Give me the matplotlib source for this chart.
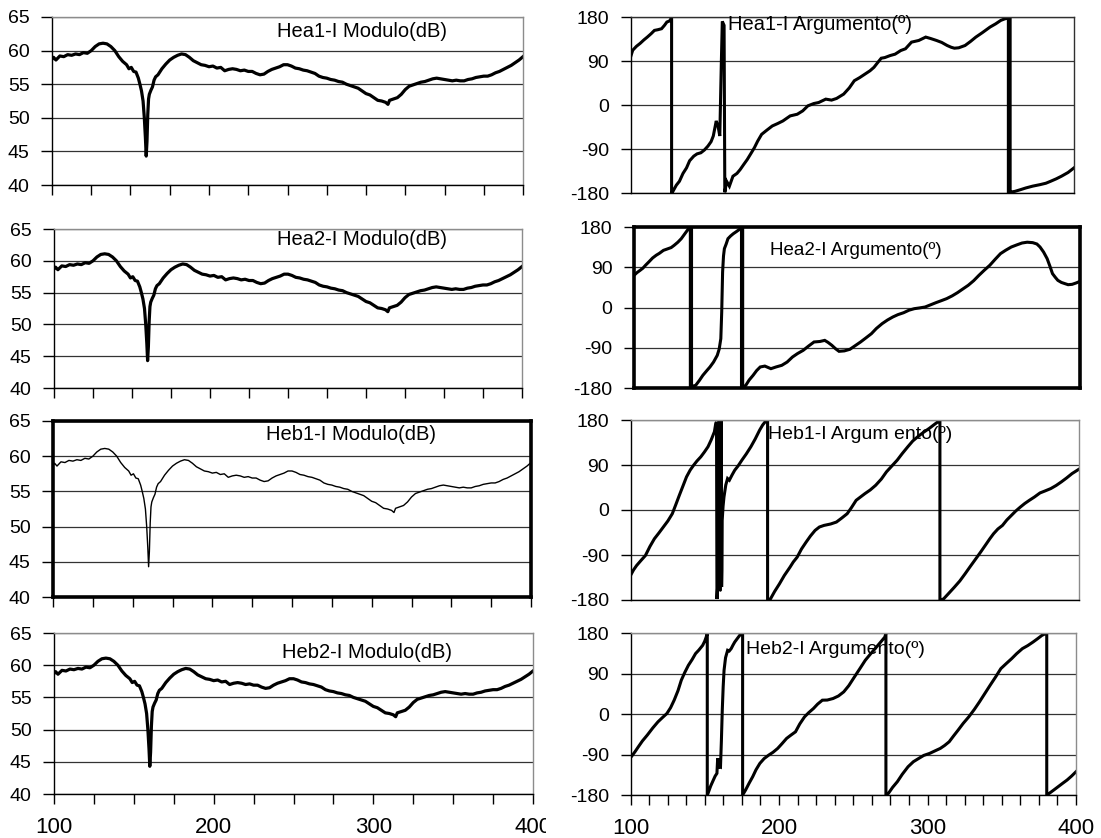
import matplotlib
matplotlib.use('Agg')
import matplotlib.pyplot as plt
from matplotlib.transforms import Bbox, TransformedBbox

plt.rcParams['font.family'] = ['Liberation Sans', 'DejaVu Sans']

# ---------------- data ----------------
freq_mod = [100, 101, 102.5, 105, 107.5, 110, 112.5, 115, 117.5, 120, 122.5, 125, 127.5, 130, 132.5,
            135, 137.5, 140, 142.5, 145, 147.5, 149, 150.5, 152, 153.5, 155, 156, 157, 158, 158.8,
            159.5, 160, 160.5, 161, 161.5, 162, 163, 164, 165, 166, 167.5, 170, 172.5, 175, 177.5,
            180, 182.5, 185, 187.5, 190, 192.5, 195, 197.5, 200, 202.5, 205, 207.5, 210, 212.5, 215,
            217.5, 220, 222.5, 225, 227.5, 230, 232.5, 235, 237.5, 240, 242.5, 245, 247.5, 250, 252.5,
            255, 257.5, 260, 262.5, 265, 267.5, 270, 272.5, 275, 277.5, 280, 282.5, 285, 287.5, 290,
            292.5, 295, 297.5, 300, 302.5, 305, 307.5, 310, 312.5, 314, 315, 317.5, 320, 322.5, 325,
            327.5, 330, 332.5, 335, 337.5, 340, 342.5, 345, 347.5, 350, 352.5, 355, 357.5, 360, 362.5,
            365, 367.5, 370, 372.5, 375, 377.5, 380, 382.5, 385, 387.5, 390, 392.5, 395, 397.5, 400]
modulo_db = [58.7, 59.0, 58.6, 59.2, 59.1, 59.4, 59.3, 59.5, 59.4, 59.7, 59.6, 60.0, 60.6, 61.0, 61.1,
             61.0, 60.6, 60.0, 59.1, 58.4, 57.9, 57.3, 57.5, 56.9, 56.8, 55.9, 55.0, 54.0, 52.5, 50.0,
             47.0, 44.3, 46.5, 50.5, 52.8, 53.5, 54.1, 54.6, 55.6, 56.1, 56.4, 57.3, 58.0, 58.6, 59.0,
             59.3, 59.5, 59.4, 59.0, 58.5, 58.2, 57.9, 57.8, 57.6, 57.7, 57.4, 57.5, 57.0, 57.2, 57.3,
             57.2, 57.0, 57.1, 56.9, 56.9, 56.6, 56.4, 56.5, 56.9, 57.2, 57.4, 57.6, 57.9, 57.9, 57.7,
             57.4, 57.3, 57.1, 57.0, 56.8, 56.6, 56.2, 56.0, 55.9, 55.7, 55.6, 55.4, 55.3, 55.0, 54.8,
             54.6, 54.4, 54.0, 53.6, 53.4, 53.0, 52.6, 52.5, 52.3, 52.0, 52.6, 52.8, 53.0, 53.5, 54.2,
             54.7, 54.9, 55.1, 55.3, 55.4, 55.6, 55.8, 55.9, 55.8, 55.7, 55.6, 55.5, 55.6, 55.5, 55.5,
             55.7, 55.8, 56.0, 56.1, 56.2, 56.2, 56.4, 56.7, 56.9, 57.2, 57.5, 57.8, 58.2, 58.6, 59.1]

hea1_phase = [(100, 97.7), (101.5, 112), (104, 120), (106.5, 126), (109, 133), (111.4, 139), (114, 146),
              (116.2, 152.6), (118.5, 154), (121, 156), (123, 163), (124.6, 169.7), (126.5, 172),
              (127.8, 179), (127.8, -180), (128.7, -176.6), (131, -164), (133.1, -156), (135.5, -140),
              (137.9, -128.6), (140, -114), (142.8, -104.6), (145, -100), (147.6, -97.7), (150, -92),
              (152.4, -84), (154.5, -75), (156, -63.4), (157.2, -45), (158, -32.6), (158.6, -38),
              (159.2, -42.9), (160.4, -63.4), (161.4, 80.6), (162.1, 171), (163.3, 162.9),
              (163.8, -178.6), (165, -156), (166.9, -166), (169.3, -145.7), (172, -140), (174.2, -132),
              (176.5, -122), (179, -111.4), (181.5, -99), (183.8, -87.4), (186, -74), (188.7, -60),
              (192, -52), (195.9, -42.9), (199.5, -38), (203.1, -32.6), (208, -22.3), (212.8, -18.9),
              (216.5, -12), (220, -1.7), (224, 3), (227.3, 5.1), (232.1, 12), (236, 10), (239.4, 13.4),
              (244.2, 22.3), (248, 35), (251.4, 49.7), (255, 56), (258.7, 63.4), (262, 70), (264.7, 77.1),
              (267, 86), (269.6, 95.7), (272, 97), (275.6, 101.1), (279, 104), (282.8, 111.4),
              (286, 115), (290.1, 128.6), (295, 132), (299.7, 138.9), (303, 136), (307, 132),
              (310.5, 128), (314.2, 121.7), (317, 118), (319.1, 116.2), (322, 117), (326.3, 121.7),
              (330, 130), (333.6, 138.9), (338, 148), (343.2, 159.4), (347, 166), (350.5, 173.1),
              (353, 176), (355.3, 178), (355.6, 180), (355.6, -180), (356.2, -180), (356.2, 180),
              (356.8, 180), (356.8, -180), (357.5, -178), (360.1, -176.6), (364, -173), (367.4, -169.7),
              (372, -166), (377, -162.9), (381, -160), (384.2, -156), (388, -151), (391.5, -145.7),
              (396, -138), (400, -128.6)]

hea2_phase = [(100, 71.9), (102, 78), (104.1, 83.1), (106, 88), (107.7, 94.3), (110, 102), (112.5, 110.7),
              (115, 117), (117, 121), (119.8, 127.8), (122.5, 131), (125, 134), (127, 139), (129.5, 146),
              (131.8, 153.9), (134, 164), (136.7, 176.3), (137.9, 180), (137.9, -180), (138.3, -180),
              (138.3, 180), (138.7, 180), (138.7, -180), (139.5, -176), (141.5, -174), (144, -163),
              (146.3, -151.7), (149, -141), (151.1, -133), (153.5, -122), (156, -107), (157.3, -93),
              (158.4, -69.7), (159, -10), (159.6, 79.4), (160.2, 115), (160.8, 131.6), (162, 142),
              (163.2, 153.9), (165, 160), (166.8, 165), (169, 170), (171.6, 176.3), (172.3, 180),
              (172.3, -180), (172.7, -180), (172.7, 180), (173.1, 180), (173.1, -180), (175.2, -174),
              (177.5, -162), (180.1, -151.7), (182.5, -141), (184.9, -133), (188, -131), (192.1, -136.8),
              (195.5, -133), (199.4, -129.3), (203, -122), (206.6, -110.7), (210, -103), (213.8, -95.8),
              (217.5, -86), (221.1, -77.1), (225, -76), (228.3, -73.5), (230.5, -78), (233.1, -84.6),
              (235.5, -92), (237.9, -98), (241.5, -97), (245.2, -93.5), (248.5, -86), (252.4, -77.1),
              (256, -68), (259.7, -58.5), (263, -47), (266.9, -36.1), (270.5, -28), (274.1, -21.2),
              (277.5, -16), (281.4, -11.6), (285, -6), (288.6, -2.6), (292, -1), (295.8, 1.1),
              (299.5, 6), (303.1, 10.8), (306.5, 15), (310.3, 19.8), (314, 26), (317.6, 33.2),
              (321, 41), (324.8, 49.6), (328.5, 60), (332, 71.9), (335.5, 83), (339.3, 94.3),
              (343, 108), (346.5, 120.4), (350, 128), (353.8, 135.3), (357.5, 140), (361, 144.2),
              (364.5, 146), (368.2, 145), (371, 142), (373.1, 135.3), (375.5, 124), (377.9, 109.2),
              (379.8, 92), (381.5, 75.7), (383.5, 67), (385.1, 60.7), (387.5, 56), (389.9, 53.3),
              (392, 51), (394.7, 51.8), (397.5, 55), (400, 58.5)]

heb1_phase = [(100, -131), (102, -120), (104.1, -111), (107, -101), (110, -91), (113, -73), (116, -57.5),
              (119, -46), (122, -34), (125, -22), (128, -7.4), (130.5, 12), (132.7, 29.4), (135, 47),
              (137.5, 66.2), (140, 80), (142.3, 89.7), (144.5, 98), (147.1, 106.4), (149.5, 116),
              (151.9, 126.5), (154, 140), (156.2, 156.6), (157.1, 173.3), (157.6, 176), (157.9, -178),
              (158.4, -150), (158.9, 175), (159.3, 176), (159.7, -162), (160.1, -160), (160.5, 178),
              (160.8, 176), (161.0, -154), (161.2, -120), (161.4, -20.7), (162, 8), (162.6, 26.1),
              (163.8, 50), (165, 62.9), (166.2, 59.6), (168, 70), (169.8, 79.6), (172, 88),
              (174.6, 99.7), (177.5, 112), (180.6, 126.5), (183.5, 142), (186.5, 159.9), (188.5, 170),
              (190.8, 178.7), (191.8, 180), (191.8, -180), (193.7, -178), (196.5, -163), (199.7, -147.9),
              (203, -131), (206.8, -114.4), (209, -104), (211.6, -94.3), (214.5, -78), (217.6, -64.2),
              (220.5, -52), (223.6, -40.8), (226.5, -34), (229.6, -30.8), (234, -28), (237.9, -24.1),
              (241.5, -16), (245.1, -7.4), (248, 5), (251.1, 19.4), (254, 26), (257, 32.8),
              (260.5, 40), (264.2, 49.5), (268, 62), (271.4, 76.3), (275, 88), (278.6, 99.7),
              (282, 113), (285.7, 126.5), (289, 138), (292.9, 147.9), (296.5, 156), (300.1, 163.3),
              (303, 170), (306, 176.7), (307.2, 180), (307.2, -180), (309.6, -178), (313, -167),
              (316.8, -154.6), (320.5, -142), (324, -127.8), (327.5, -113), (331.2, -97.7),
              (334.5, -84), (338.3, -67.6), (340.5, -58), (343.1, -47.5), (346, -38), (349.1, -30.8),
              (352, -20), (355.1, -10.7), (358, -2), (361.1, 6), (364, 13), (367.1, 19.4),
              (370.5, 26), (374.2, 34.1), (377.5, 38), (381.4, 42.8), (385, 49), (388.5, 56.2),
              (392, 64), (395.7, 72.9), (400, 81)]

heb2_phase = [(100, -97), (100.5, -95), (103, -84), (105.3, -72.8), (108, -60), (111.3, -46.9),
              (115, -31), (118.5, -17.4), (121.5, -8), (124.5, 1.1), (127, 14), (129.4, 30.7),
              (132, 52), (134.2, 75), (136.5, 92), (139, 108.3), (141.5, 121), (143.8, 134.2),
              (146, 142), (148.6, 152.6), (150, 162), (151, 171.1), (151.7, 180), (151.7, -180),
              (152.2, -176.3), (154, -160), (155.8, -146.7), (157, -138), (158.2, -131.9),
              (158.7, -98.7), (159.4, -120.8), (160, -116), (160.6, -117.2), (161.2, -60),
              (161.8, 8.5), (162.4, 60), (163, 97.2), (164, 125), (165.4, 141.6), (166.5, 140),
              (167.8, 145.3), (169, 153), (170.2, 160), (172, 168), (173.9, 176.3), (175.5, 180),
              (175.5, -180), (177.5, -168.9), (180, -153), (182.3, -139.3), (184.5, -124),
              (187.1, -109.8), (190, -99), (193.1, -91.3), (196, -85), (199.1, -76.5), (202, -66),
              (205.1, -54.3), (208, -47), (211.1, -39.6), (214, -22), (217.2, -6.3), (220, 3),
              (223.2, 12.2), (226, 22), (229.2, 30.7), (232.5, 31), (236.4, 34.4), (240, 40),
              (243.6, 49.2), (247, 63), (250.8, 82.4), (254.5, 101), (258.1, 119.4), (261.5, 133),
              (265.3, 147.5), (268.5, 160), (271.3, 171.1), (272, 180), (272, -180), (273.7, -176.3),
              (276.5, -163), (279.7, -150.4), (283, -134), (286.9, -117.2), (290.5, -106),
              (294.1, -98.7), (297.5, -92), (301.4, -87.6), (305, -82), (308.6, -76.5), (311.5, -70),
              (314.6, -61.7), (317.5, -49), (320.6, -35.9), (324, -21), (327.8, -6.3), (331.5, 10),
              (335, 27), (338.5, 45), (342.2, 64), (346, 83), (349.4, 100.9), (353, 112),
              (356.7, 123.1), (360, 134), (363.9, 145.3), (367.5, 152), (371.1, 160), (374, 167),
              (377.1, 174.8), (380.3, 180), (380.3, -180), (382, -176.3), (385, -169), (388, -161.5),
              (391, -154), (394, -146.7), (397, -138), (400, -128.3)]

mod_titles = ['Hea1-I Modulo(dB)', 'Hea2-I Modulo(dB)', 'Heb1-I Modulo(dB)', 'Heb2-I Modulo(dB)']
arg_titles = ['Hea1-I Argumento(º)', 'Hea2-I Argumento(º)', 'Heb1-I Argum ento(º)', 'Heb2-I Argumento(º)']
mod_yticks = [40, 45, 50, 55, 60, 65]
arg_yticks = [-180, -90, 0, 90, 180]
x_labels = [100, 200, 300, 400]

# ---------------- layout ----------------
W, H = 1101, 838
fig = plt.figure(figsize=(W / 100, H / 100), dpi=100)


def rect(x0, y0, x1, y1):
    return [x0 / W, 1 - y1 / H, (x1 - x0) / W, (y1 - y0) / H]


left_rects = [rect(52, 17, 523, 185), rect(54, 229, 522, 388),
              rect(53, 421, 531, 597), rect(54, 633, 533, 794)]
right_rects = [rect(630.5, 17, 1074, 193), rect(634, 227, 1080, 388),
               rect(630.5, 420, 1078.5, 600), rect(630.5, 633, 1076, 795)]
mod_lw = [2.3, 2.3, 1.0, 2.3]
mod_thick = [False, False, True, False]
arg_thick = [False, True, False, False]
mod_title_pos = [(0.478, 0.911), (0.476, 0.931), (0.446, 0.923), (0.476, 0.879)]
arg_title_pos = [(0.22, 0.958), (0.305, 0.857), (0.308, 0.922), (0.259, 0.901)]
arg_title_size = [14.5, 13.5, 14, 14]


def style_box(ax, thick, right_color):
    for s in ['left', 'bottom']:
        ax.spines[s].set_color('black')
        ax.spines[s].set_linewidth(1.0)
    for s in ['top', 'right']:
        ax.spines[s].set_color(right_color)
        ax.spines[s].set_linewidth(1.0)
    if thick:
        for s in ax.spines.values():
            s.set_color('black')
            s.set_linewidth(2.6)


for i in range(4):
    # ---- magnitude panel ----
    ax = fig.add_axes(left_rects[i])
    ax.plot(freq_mod, modulo_db, color='black', lw=mod_lw[i], solid_joinstyle='round')
    ax.set_xlim(100, 400)
    ax.set_ylim(40, 65)
    ax.set_yticks(mod_yticks)
    ax.set_yticklabels([str(v) for v in mod_yticks])
    xt = list(range(100, 401, 25))
    ax.set_xticks(xt)
    ax.yaxis.grid(True, color='#333333', lw=0.9)
    ax.set_axisbelow(True)
    style_box(ax, mod_thick[i], '#8c8c8c')
    ax.tick_params(axis='y', direction='out', length=8, width=1, labelsize=14, pad=8)
    ax.tick_params(axis='x', direction='out', length=7, width=1)
    if i == 3:
        ax.set_xticklabels([str(v) if v in x_labels else '' for v in xt])
        ax.tick_params(axis='x', labelsize=16, pad=9.5)
        clip = TransformedBbox(Bbox([[0, 0], [546 / W, 1]]), fig.transFigure)
        for lbl in ax.get_xticklabels():
            lbl.set_clip_box(clip)
            lbl.set_clip_on(True)
    else:
        ax.set_xticklabels([])
    ax.text(mod_title_pos[i][0], mod_title_pos[i][1], mod_titles[i], transform=ax.transAxes,
            ha='left', va='center', fontsize=14.5)

    # ---- phase panel ----
    ax2 = fig.add_axes(right_rects[i])
    series = [hea1_phase, hea2_phase, heb1_phase, heb2_phase][i]
    px = [p[0] for p in series]
    py = [p[1] for p in series]
    ax2.plot(px, py, color='black', lw=2.2, solid_joinstyle='miter')
    ax2.set_xlim(100, 400)
    ax2.set_ylim(-180, 180)
    ax2.set_yticks(arg_yticks)
    ax2.set_yticklabels([str(v) for v in arg_yticks])
    ax2.yaxis.grid(True, color='#333333', lw=0.9)
    ax2.set_axisbelow(True)
    style_box(ax2, arg_thick[i], '#303030' if i == 0 else '#8c8c8c')
    ax2.tick_params(axis='y', direction='out', length=7, width=1, labelsize=14, pad=8.5)
    if i == 3:
        xt2 = [100 + 12.5 * k for k in range(25)]
        ax2.set_xticks(xt2)
        ax2.set_xticklabels([str(int(v)) if v in x_labels else '' for v in xt2])
        ax2.tick_params(axis='x', direction='out', length=7, width=1, labelsize=16, pad=9.5)
    else:
        ax2.set_xticks([])
    ax2.text(arg_title_pos[i][0], arg_title_pos[i][1], arg_titles[i], transform=ax2.transAxes,
             ha='left', va='center', fontsize=arg_title_size[i])

fig.savefig('out.png', dpi=100, facecolor='white')
